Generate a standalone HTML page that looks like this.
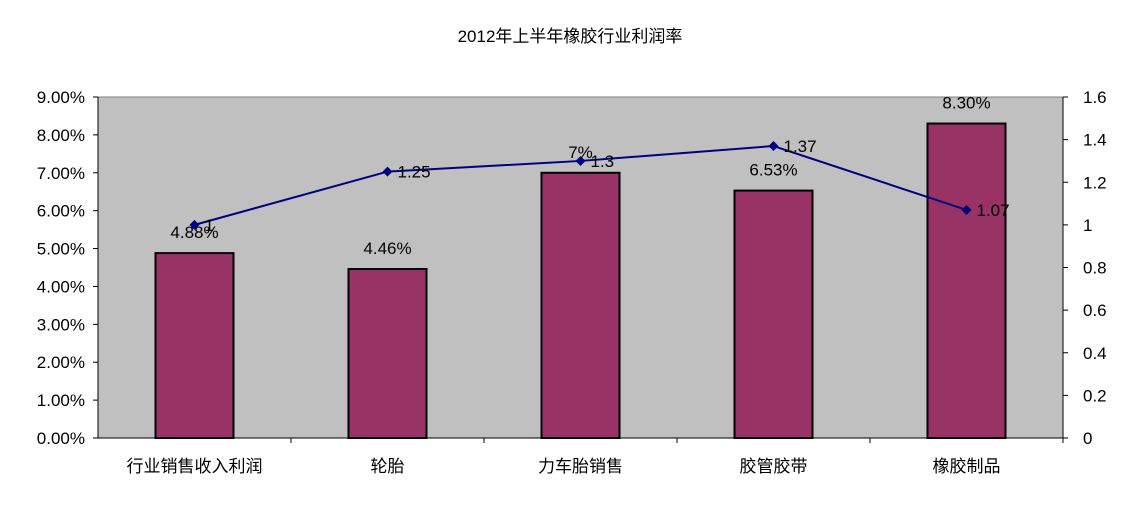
<!DOCTYPE html>
<html><head><meta charset="utf-8"><style>
body{margin:0;background:#fff}
svg text{font-family:"Liberation Sans","Noto Sans CJK SC",sans-serif;font-size:17px;fill:#000}
</style></head><body>
<svg width="1139" height="508">
<text x="570" y="42" text-anchor="middle" style="font-size:17px">2012年上半年橡胶行业利润率</text>
<rect x="98" y="97" width="965" height="341" fill="#c0c0c0" stroke="#808080" stroke-width="1"/>
<g id="g"></g>
</svg>
<script>
const categories=["行业销售收入利润","轮胎","力车胎销售","胶管胶带","橡胶制品"];
const barValues=[4.88,4.46,7,6.53,8.30];
const barLabels=["4.88%","4.46%","7%","6.53%","8.30%"];
const lineValues=[1,1.25,1.3,1.37,1.07];
const lineLabels=["1","1.25","1.3","1.37","1.07"];
const leftTicks=[0,1,2,3,4,5,6,7,8,9];
const rightTicks=[0,0.2,0.4,0.6,0.8,1,1.2,1.4,1.6];
const X0=98,X1=1063,Y0=438,Y1=97;
const yL=v=>Y0-(v/9)*(Y0-Y1);
const yR=v=>Y0-(v/1.6)*(Y0-Y1);
const cw=(X1-X0)/categories.length;
const xC=i=>X0+cw*(i+0.5);
const g=document.getElementById('g');const NS='http://www.w3.org/2000/svg';
function mk(t,a,txt){const e=document.createElementNS(NS,t);for(const k in a)e.setAttribute(k,a[k]);if(txt!==undefined)e.textContent=txt;g.appendChild(e);return e;}
let e;
e=mk('line',{x1:X0,y1:Y1,x2:X0,y2:Y0,stroke:'#000'});


e=mk('line',{x1:X1,y1:Y1,x2:X1,y2:Y0,stroke:'#000'});


e=mk('line',{x1:X0,y1:Y0,x2:X1,y2:Y0,stroke:'#000'});


leftTicks.forEach(v=>{const y=yL(v);mk('line',{x1:X0-5,y1:y,x2:X0,y2:y,stroke:'#000'});
e=mk('text',{x:X0-13,y:y+6,'text-anchor':'end'},v.toFixed(2)+'%');

});
rightTicks.forEach(v=>{const y=yR(v);mk('line',{x1:X1,y1:y,x2:X1+5,y2:y,stroke:'#000'});
e=mk('text',{x:X1+20,y:y+6},String(v));

});
categories.forEach((c,i)=>{const x=xC(i);
mk('line',{x1:X0+cw*(i+1),y1:Y0,x2:X0+cw*(i+1),y2:Y0+5,stroke:'#000'});
e=mk('rect',{x:x-39,y:yL(barValues[i]),width:78,height:Y0-yL(barValues[i]),fill:'#993366',stroke:'#000','stroke-width':2});


e=mk('text',{x:x,y:yL(barValues[i])-15,'text-anchor':'middle'},barLabels[i]);


e=mk('text',{x:x,y:472,'text-anchor':'middle'},c);

});
e=mk('polyline',{points:lineValues.map((v,i)=>xC(i)+','+yR(v)).join(' '),fill:'none',stroke:'#000080','stroke-width':2});


lineValues.forEach((v,i)=>{const x=xC(i),y=yR(v);
e=mk('polygon',{points:`${x},${y-5} ${x+5},${y} ${x},${y+5} ${x-5},${y}`,fill:'#000080'});


e=mk('text',{x:x+10,y:y+6},lineLabels[i]);

});
</script>
</body></html>
